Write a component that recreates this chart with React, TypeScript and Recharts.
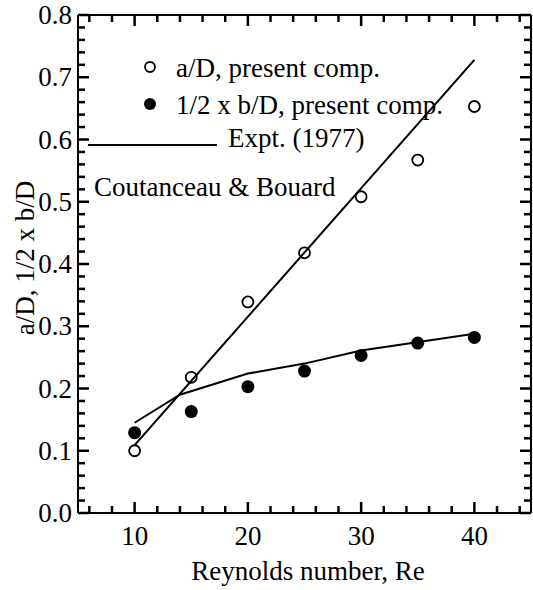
import React from "react";
import { ComposedChart, Scatter, XAxis, YAxis, ReferenceLine } from "recharts";

const reynolds = [10, 15, 20, 25, 30, 35, 40];
const aOverD = [0.1, 0.218, 0.339, 0.418, 0.508, 0.567, 0.653];
const halfBOverD = [0.129, 0.163, 0.203, 0.228, 0.253, 0.273, 0.282];

// Coutanceau & Bouard (1977), experimental curve for 1/2 x b/D
const exptRe = [10, 14, 20, 25, 30, 40];
const exptB = [0.145, 0.19, 0.224, 0.24, 0.261, 0.288];

// straight line through the a/D experiment
const fitRe = [10, 40];
const fitA = [0.109, 0.728];

const xMajor = [10, 20, 30, 40];
const xTicks = [6, 8, 10, 12, 14, 16, 18, 20, 22, 24, 26, 28, 30, 32, 34, 36, 38, 40, 42, 44];
const yMajor = [0, 0.1, 0.2, 0.3, 0.4, 0.5, 0.6, 0.7, 0.8];
const yTicks = [
  0, 0.02, 0.04, 0.06, 0.08, 0.1, 0.12, 0.14, 0.16, 0.18, 0.2, 0.22, 0.24, 0.26, 0.28, 0.3,
  0.32, 0.34, 0.36, 0.38, 0.4, 0.42, 0.44, 0.46, 0.48, 0.5, 0.52, 0.54, 0.56, 0.58, 0.6,
  0.62, 0.64, 0.66, 0.68, 0.7, 0.72, 0.74, 0.76, 0.78, 0.8,
];

const W = 533;
const H = 590;
const MARGIN = { top: 15, right: 2, bottom: 0, left: 0 };
const PLOT_TOP = MARGIN.top;
const PLOT_RIGHT = W - MARGIN.right;

const pts = (xs: number[], ys: number[]) => xs.map((x, i) => ({ x, y: ys[i] }));

const FONT = "'Liberation Serif', 'Times New Roman', serif";
const FS = 27;
const TICK = { stroke: "#000", strokeWidth: 2.5 };

const isMajorY = (v: number) => yMajor.some((m) => Math.abs(m - v) < 1e-6);

// bottom axis tick: inward mark at bottom and top of the frame, label on majors
const XTick = (p: any) => {
  const major = xMajor.includes(p.payload.value);
  const len = major ? 11 : 7;
  return (
    <g>
      <line x1={p.x} y1={p.y} x2={p.x} y2={p.y - len} {...TICK} />
      <line x1={p.x} y1={PLOT_TOP} x2={p.x} y2={PLOT_TOP + len} {...TICK} />
      {major && (
        <text x={p.x} y={p.y + 32} textAnchor="middle" fontFamily={FONT} fontSize={FS} fill="#000">
          {p.payload.value}
        </text>
      )}
    </g>
  );
};

// left axis tick: inward mark at left and right of the frame, label on majors
const YTick = (p: any) => {
  const major = isMajorY(p.payload.value);
  const len = major ? 11 : 7;
  return (
    <g>
      <line x1={p.x} y1={p.y} x2={p.x + len} y2={p.y} {...TICK} />
      <line x1={PLOT_RIGHT} y1={p.y} x2={PLOT_RIGHT - len} y2={p.y} {...TICK} />
      {major && (
        <text x={p.x - 6} y={p.y + 9} textAnchor="end" fontFamily={FONT} fontSize={FS} fill="#000">
          {p.payload.value.toFixed(1)}
        </text>
      )}
    </g>
  );
};

const OpenDot = (p: any) => <circle cx={p.cx} cy={p.cy} r={5.5} fill="none" stroke="#000" strokeWidth={1.8} />;
const FilledDot = (p: any) => <circle cx={p.cx} cy={p.cy} r={6.5} fill="#000" />;
const NoDot = () => <g />;

const frame = { stroke: "#000", strokeWidth: 2 };

export default function App() {
  return (
    <div style={{ position: "relative", width: W, height: H, background: "#fff" }}>
      <style>{`body{margin:0}`}</style>
      <ComposedChart width={W} height={H} margin={MARGIN}>
        <XAxis
          type="number"
          dataKey="x"
          domain={[5, 45]}
          ticks={xTicks}
          interval={0}
          height={77}
          tickSize={0}
          tickMargin={0}
          tickLine={false}
          axisLine={frame}
          tick={XTick}
          allowDataOverflow
        />
        <YAxis
          type="number"
          dataKey="y"
          domain={[0, 0.8]}
          ticks={yTicks}
          interval={0}
          width={78}
          tickSize={0}
          tickMargin={0}
          tickLine={false}
          axisLine={frame}
          tick={YTick}
          allowDataOverflow
        />
        <ReferenceLine x={45} stroke="#000" strokeWidth={2} />
        <ReferenceLine y={0.8} stroke="#000" strokeWidth={2} />
        <Scatter data={pts(fitRe, fitA)} line={{ stroke: "#000", strokeWidth: 2 }} shape={NoDot} isAnimationActive={false} />
        <Scatter data={pts(exptRe, exptB)} line={{ stroke: "#000", strokeWidth: 2 }} shape={NoDot} isAnimationActive={false} />
        <Scatter data={pts(reynolds, aOverD)} shape={OpenDot} isAnimationActive={false} />
        <Scatter data={pts(reynolds, halfBOverD)} shape={FilledDot} isAnimationActive={false} />
      </ComposedChart>
      <svg width={W} height={H} style={{ position: "absolute", left: 0, top: 0, pointerEvents: "none" }}>
        <g fontFamily={FONT} fontSize={FS} fill="#000">
          <circle cx={150} cy={67} r={5} fill="none" stroke="#000" strokeWidth={1.8} />
          <text x={176} y={77}>a/D, present comp.</text>
          <circle cx={150} cy={104} r={6} fill="#000" />
          <text x={176} y={114}>1/2 x b/D, present comp.</text>
          <line x1={88} y1={145} x2={217} y2={145} stroke="#000" strokeWidth={2} />
          <text x={228} y={147}>Expt. (1977)</text>
          <text x={94} y={196}>Coutanceau &amp; Bouard</text>
          <text x={308} y={580} textAnchor="middle">Reynolds number, Re</text>
          <text x={0} y={0} textAnchor="middle" transform="translate(34 258) rotate(-90)">
            a/D, 1/2 x b/D
          </text>
        </g>
      </svg>
    </div>
  );
}
